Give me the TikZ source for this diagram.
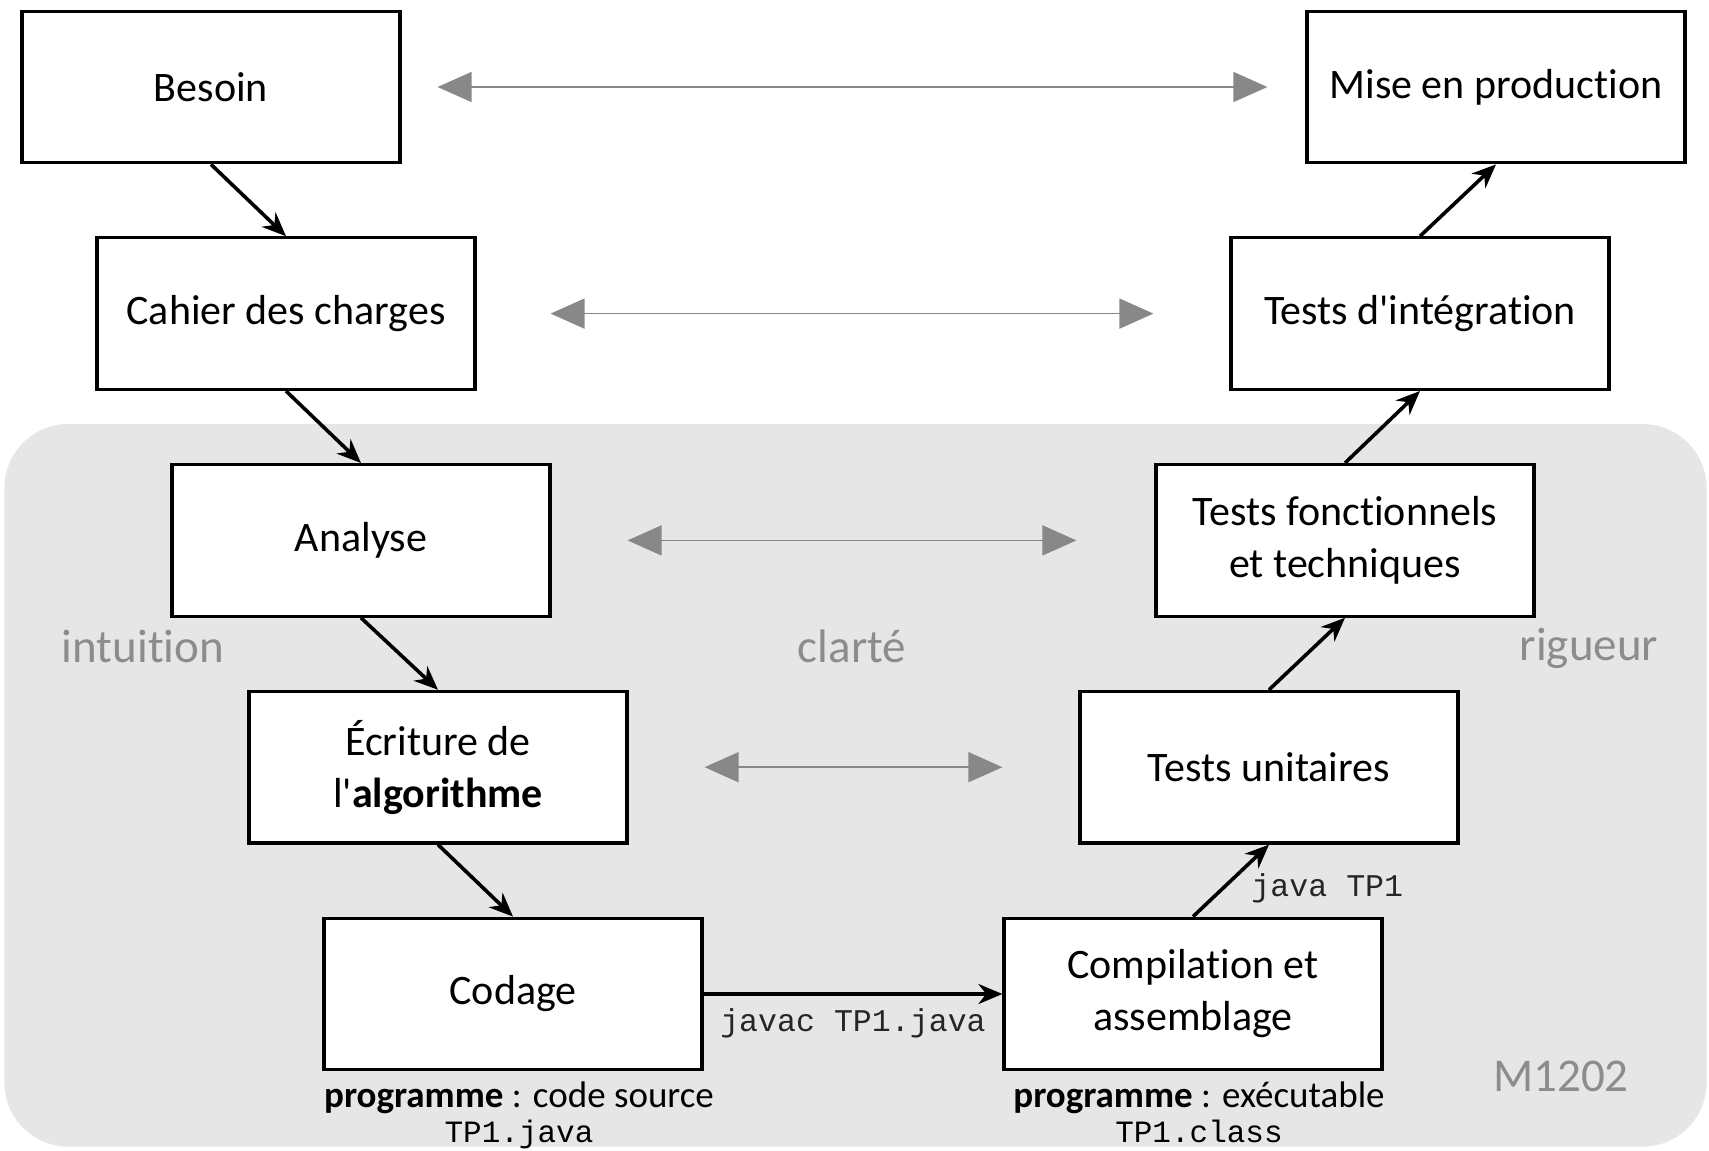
\documentclass[tikz,border=0pt]{standalone}
\usepackage{fontspec}
\setmainfont{Carlito}[Ligatures={NoCommon,NoContextual},RawFeature={-liga;-clig;-dlig}]
\setmonofont{Liberation Mono}
\usetikzlibrary{arrows.meta,positioning}
\definecolor{fondgris}{RGB}{230,230,230}
\definecolor{flechegris}{RGB}{136,136,136}
\definecolor{textegris}{RGB}{140,140,140}

\begin{document}
\begin{tikzpicture}
	 [scale =1]
	 \tikzset{node distance =4pt, >={Stealth[length=12pt,width=10pt]}}
	\tikzstyle{etape}=[rectangle,draw=black,line width=1.6pt,fill=white,minimum width=189pt,minimum height=75.8pt,align=center,font=\fontsize{21}{26}\selectfont]
	\tikzstyle{lien}=[->,line width=1.8pt]
	\tikzstyle{miroir}=[{Triangle[length=17pt,width=15pt]}-{Triangle[length=17pt,width=15pt]},draw=flechegris,fill=flechegris,line width=0.8pt]
	\tikzstyle{mot}=[text=textegris,font=\fontsize{23.5}{28}\selectfont]
	\tikzstyle{cmd}=[text=black!85,font=\fontsize{15.8}{18}\selectfont\ttfamily]
	\tikzstyle{prog}=[align=center,inner sep=0pt,font=\fontsize{18.5}{17.5}\selectfont]
	\useasboundingbox (0pt,0pt) rectangle (854.5pt,-575.5pt);
	\fill[fondgris,rounded corners=32pt] (2.2pt,-212pt) rectangle (853.3pt,-573.3pt);
	% branche descendante
	\node [etape] (besoin) at (105.5 pt,-43.5 pt) {Besoin};
	\node [etape] (cahier) at (143.0 pt,-156.8 pt) {Cahier des charges};
	\node [etape] (analyse) at (180.5 pt,-270.2 pt) {Analyse};
	\node [etape] (ecriture) at (219.0 pt,-383.6 pt) {Écriture de\\l\textquotesingle\textbf{algorithme}};
	\node [etape] (codage) at (256.5 pt,-497.0 pt) {Codage};
	% branche montante
	\node [etape] (prod) at (748.0 pt,-43.5 pt) {Mise en production};
	\node [etape] (integ) at (710.0 pt,-156.8 pt) {Tests d\textquotesingle intégration};
	\node [etape] (fonct) at (672.5 pt,-270.2 pt) {Tests fonctionnels\\et techniques};
	\node [etape] (unit) at (634.5 pt,-383.6 pt) {Tests unitaires};
	\node [etape] (compil) at (596.5 pt,-497.0 pt) {Compilation et\\assemblage};
	\draw[lien] (besoin.south) -- (cahier.north);
	\draw[lien] (cahier.south) -- (analyse.north);
	\draw[lien] (analyse.south) -- (ecriture.north);
	\draw[lien] (ecriture.south) -- (codage.north);
	\draw[lien] (codage.east) -- node [cmd,below,yshift=-3pt] {javac TP1.java} (compil.west);
	\draw[lien] (compil.north) -- node [cmd,right,xshift=6pt,yshift=-4pt] {java TP1} (unit.south);
	\draw[lien] (unit.north) -- (fonct.south);
	\draw[lien] (fonct.north) -- (integ.south);
	\draw[lien] (integ.north) -- (prod.south);
	\draw[miroir,shorten <=18pt,shorten >=19pt] (besoin.east) -- (prod.west);
	\draw[miroir,shorten <=37pt,shorten >=38pt] (cahier.east) -- (integ.west);
	\draw[miroir,shorten <=38pt,shorten >=39pt] (analyse.east) -- (fonct.west);
	\draw[miroir,shorten <=38pt,shorten >=38pt] (ecriture.east) -- (unit.west);
	\node [prog,below=5pt of codage,xshift=3pt] (source) {\textbf{programme} : code source\\{\fontsize{15.5}{17.5}\ttfamily TP1.java}};
	\node [prog,below=5pt of compil,xshift=3pt] (exec) {\textbf{programme} : exécutable\\{\fontsize{15.5}{17.5}\ttfamily TP1.class}};
	\node [mot] (intuition) at (71.5 pt,-323.0 pt) {intuition};
	\node [mot] (clarte) at (426.0 pt,-323.0 pt) {clarté};
	\node [mot] (rigueur) at (794.5 pt,-324.0 pt) {rigueur};
	\node [mot] (module) at (780.5 pt,-538.0 pt) {M1202};
	\end{tikzpicture}
\end{document}
